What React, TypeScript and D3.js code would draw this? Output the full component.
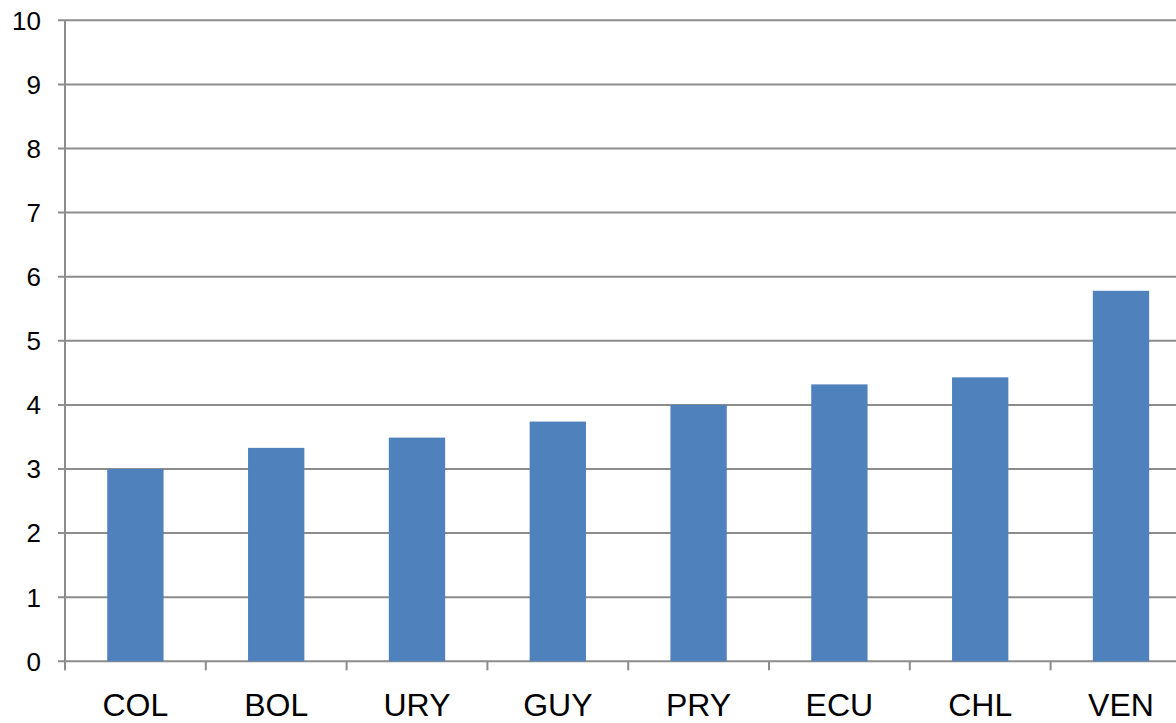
import { useEffect, useRef } from "react";
import * as d3 from "d3";

const categories = ["COL", "BOL", "URY", "GUY", "PRY", "ECU", "CHL", "VEN"];
const values = [3.0, 3.33, 3.49, 3.74, 4.0, 4.32, 4.43, 5.78];
const yTicks = [0, 1, 2, 3, 4, 5, 6, 7, 8, 9, 10];

const App = () => {
    const svgRef = useRef<SVGSVGElement>(null);

    useEffect(() => {
        document.body.style.margin = "0";
        const svg = d3.select(svgRef.current);
        svg.selectAll("*").remove();

        const left = 65;
        const top = 20.3;
        const bottom = 661.3;
        const step = 140.8;
        const right = left + step * categories.length;

        const x = d3.scaleBand()
            .domain(categories)
            .range([left, right])
            .paddingInner(0.6)
            .paddingOuter(0.3);

        const y = d3.scaleLinear().domain([0, 10]).range([bottom, top]);

        const grid = "#8c8c8c";

        // gridlines + y ticks
        svg.append("g")
            .selectAll("line")
            .data(yTicks)
            .join("line")
            .attr("x1", left - 7)
            .attr("x2", right)
            .attr("y1", (d) => y(d))
            .attr("y2", (d) => y(d))
            .attr("stroke", grid)
            .attr("stroke-width", 2);

        svg.append("g")
            .selectAll("text")
            .data(yTicks)
            .join("text")
            .attr("x", 41)
            .attr("y", (d) => y(d))
            .attr("dy", "0.36em")
            .attr("text-anchor", "end")
            .attr("font-family", "Liberation Sans, Arial, sans-serif")
            .attr("font-size", 26)
            .attr("fill", "#000")
            .text((d) => d);

        // bars
        svg.append("g")
            .selectAll("rect")
            .data(values)
            .join("rect")
            .attr("x", (d, i) => x(categories[i]))
            .attr("width", x.bandwidth())
            .attr("y", (d) => y(d))
            .attr("height", (d) => bottom - y(d))
            .attr("fill", "#4f81bd");

        // y axis line
        svg.append("line")
            .attr("x1", left)
            .attr("x2", left)
            .attr("y1", top)
            .attr("y2", bottom + 9)
            .attr("stroke", grid)
            .attr("stroke-width", 2);

        // x tick marks
        const xTicks = d3.range(categories.length + 1).map((i) => left + i * step);
        svg.append("g")
            .selectAll("line")
            .data(xTicks)
            .join("line")
            .attr("x1", (d) => d)
            .attr("x2", (d) => d)
            .attr("y1", bottom)
            .attr("y2", bottom + 9)
            .attr("stroke", grid)
            .attr("stroke-width", 2);

        // x labels
        svg.append("g")
            .selectAll("text")
            .data(categories)
            .join("text")
            .attr("x", (d) => x(d) + x.bandwidth() / 2)
            .attr("y", 716)
            .attr("text-anchor", "middle")
            .attr("font-family", "Liberation Sans, Arial, sans-serif")
            .attr("font-size", 32)
            .attr("fill", "#000")
            .text((d) => d);
    }, []);

    return <svg ref={svgRef} width={1176} height={723} style={{ display: "block" }} />;
};

export default App;
